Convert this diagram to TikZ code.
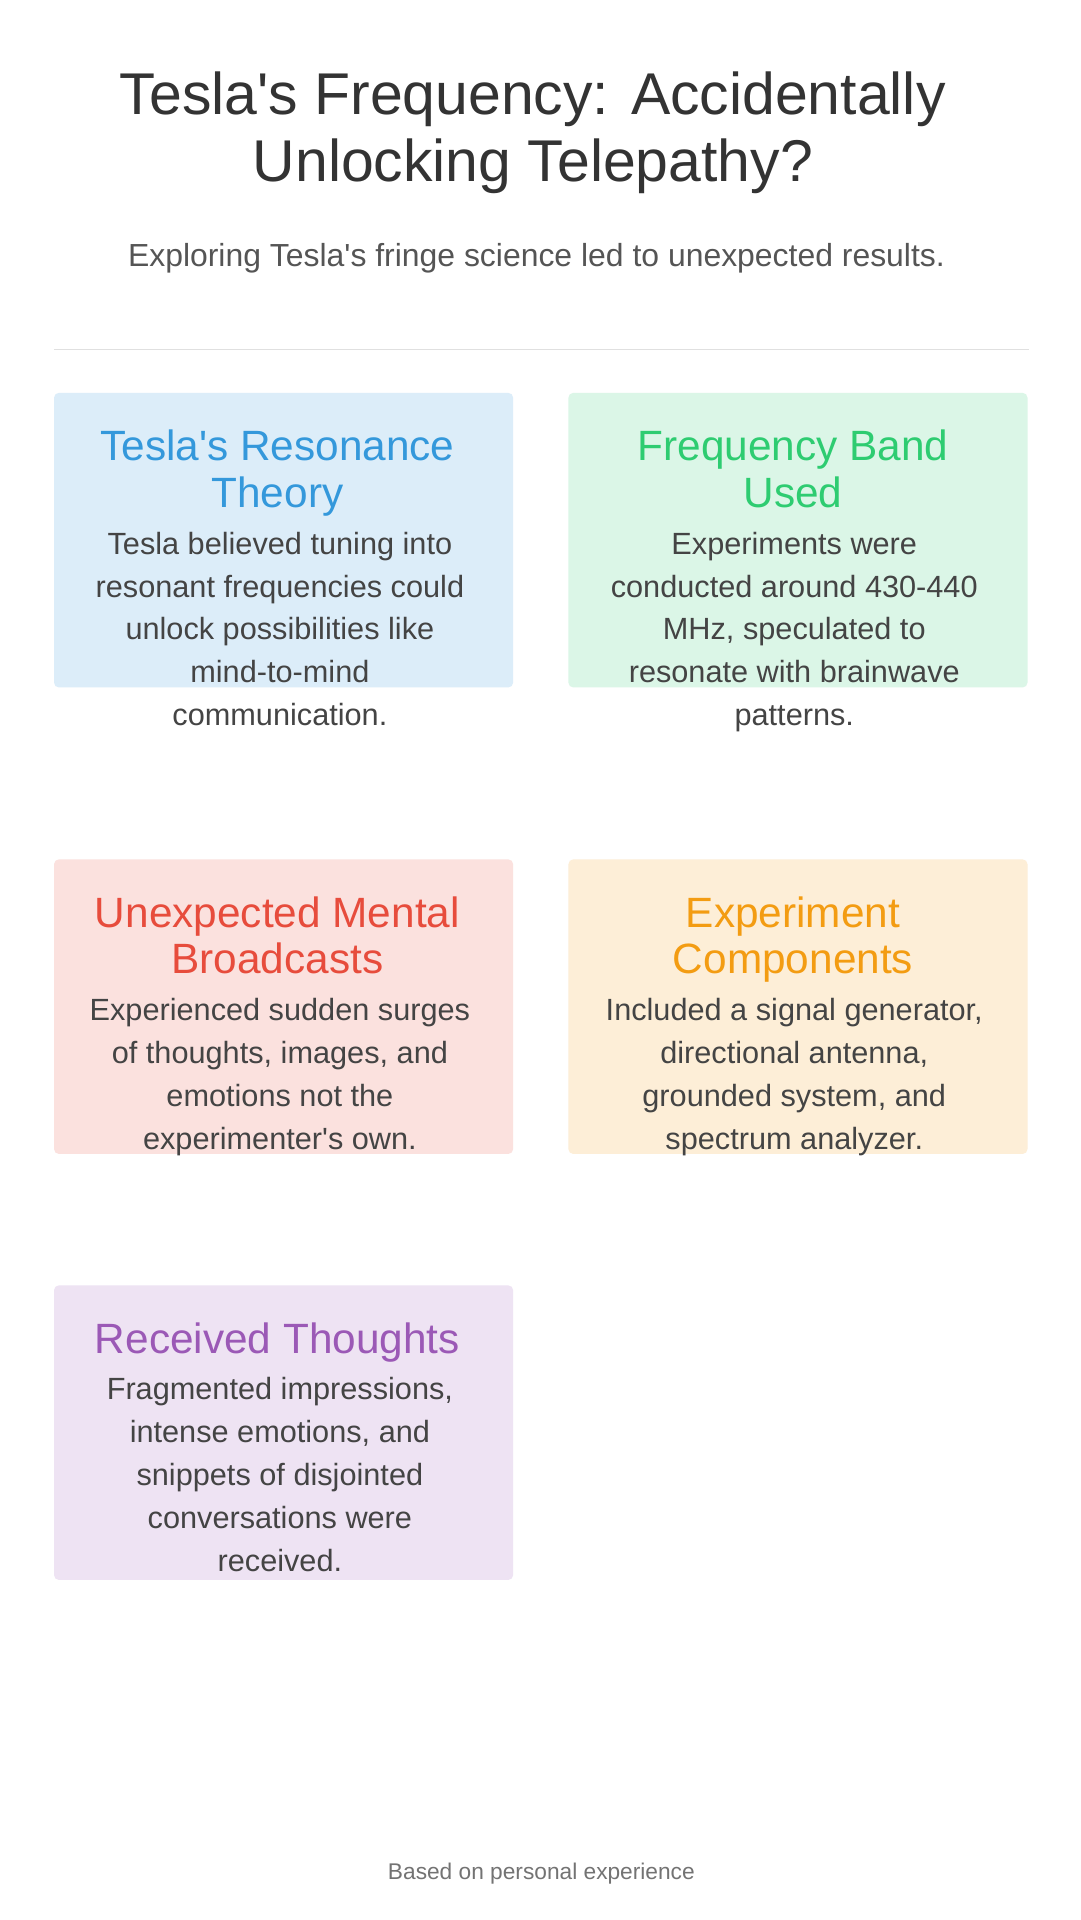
\documentclass[tikz,border=0pt]{standalone}
\usepackage{fontspec}
\setmainfont{Liberation Sans}
\usepackage{tikz}
\definecolor{titlegray}{HTML}{333333}
\definecolor{bodygray}{HTML}{444444}
\definecolor{subgray}{HTML}{555555}
\definecolor{teslablue}{HTML}{3498DB}
\definecolor{bandgreen}{HTML}{2ECC71}
\definecolor{mentalred}{HTML}{E74C3C}
\definecolor{partorange}{HTML}{F39C12}
\definecolor{thoughtpurple}{HTML}{9B59B6}
\newcommand{\apos}{\textquotesingle}

\begin{document}
\begin{tikzpicture}[x=1pt,y=-1pt,
    card/.style={rounded corners=4pt, draw=none},
    heading/.style={anchor=north, align=center, inner sep=0pt,
        font=\fontsize{34.5}{38}\selectfont},
    body/.style={anchor=north, align=center, inner sep=0pt,
        text=bodygray, font=\fontsize{25}{35}\selectfont}]
        \useasboundingbox[fill=white] (0,0) rectangle (880,1564);

        \node[text=titlegray, align=center, font=\fontsize{48}{55}\selectfont] (title) at (434,108)
        {Tesla\apos s Frequency: Accidentally\\Unlocking Telepathy?};
        \node[text=subgray, font=\fontsize{26}{29}\selectfont] (subtitle) at (437,210)
        {Exploring Tesla\apos s fringe science led to unexpected results.};
        \draw[black!12, line width=1pt] (44,285) -- (838,285);

        % cards
        \fill[card, fill=teslablue!17] (44,320) rectangle (418,560);
        \node[heading, text=teslablue] (resh) at (226,350) {Tesla\apos s Resonance\\Theory};
        \node[body] (resb) at (228,433) {Tesla believed tuning into\\resonant frequencies could\\unlock possibilities like\\mind-to-mind\\communication.};

        \fill[card, fill=bandgreen!17] (463,320) rectangle (837,560);
        \node[heading, text=bandgreen] (bandh) at (646,350) {Frequency Band\\Used};
        \node[body] (bandb) at (647,433) {Experiments were\\conducted around 430-440\\MHz, speculated to\\resonate with brainwave\\patterns.};

        \fill[card, fill=mentalred!17] (44,700) rectangle (418,940);
        \node[heading, text=mentalred] (menth) at (226,730) {Unexpected Mental\\Broadcasts};
        \node[body] (mentb) at (228,813) {Experienced sudden surges\\of thoughts, images, and\\emotions not the\\experimenter\apos s own.};

        \fill[card, fill=partorange!17] (463,700) rectangle (837,940);
        \node[heading, text=partorange] (parth) at (646,730) {Experiment\\Components};
        \node[body] (partb) at (647,813) {Included a signal generator,\\directional antenna,\\grounded system, and\\spectrum analyzer.};

        \fill[card, fill=thoughtpurple!17] (44,1047) rectangle (418,1287);
        \node[heading, text=thoughtpurple] (recvh) at (226,1077) {Received Thoughts};
        \node[body] (recvb) at (228,1122) {Fragmented impressions,\\intense emotions, and\\snippets of disjointed\\conversations were\\received.};

        \node[text=black!55, font=\fontsize{18.5}{22}\selectfont] (footer) at (441,1526) {Based on personal experience};
    \end{tikzpicture}
\end{document}
